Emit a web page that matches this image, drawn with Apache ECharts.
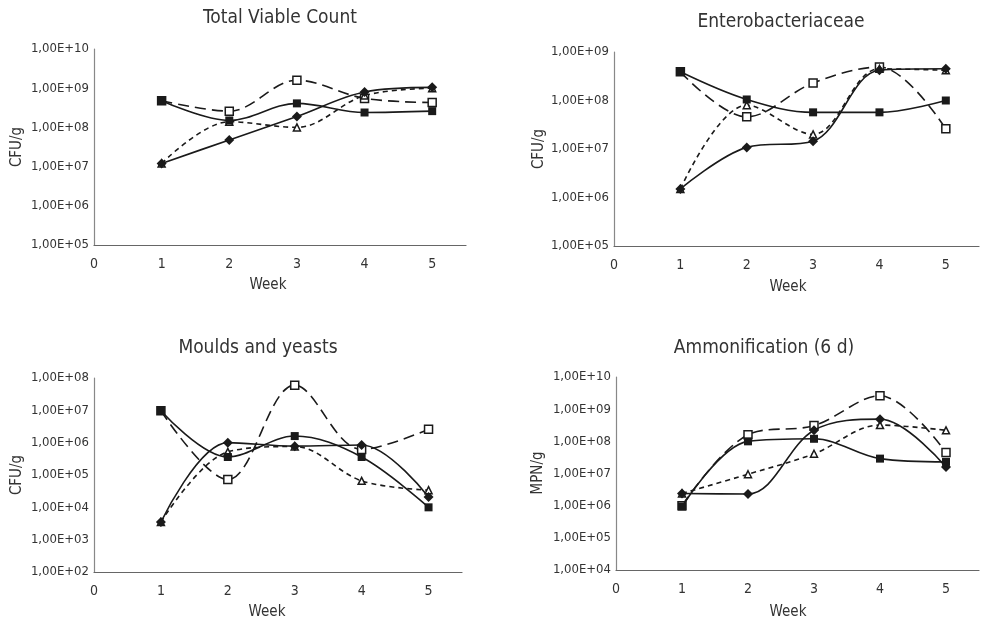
<!DOCTYPE html>
<html>
<head>
<meta charset="utf-8">
<script src="https://cdn.jsdelivr.net/npm/echarts@6/dist/echarts.min.js"></script>
<style>
html,body{margin:0;padding:0;background:#fff;}
#chart{width:982px;height:621px;}
</style>
</head>
<body>
<div id="chart"></div>
<script>
// ---------- data ----------
const weeks = [1, 2, 3, 4, 5];
const xTickLabels = ['0', '1', '2', '3', '4', '5'];
const panelTitles = ['Total Viable Count', 'Enterobacteriaceae', 'Moulds and yeasts', 'Ammonification (6 d)'];
const yAxisNames = ['CFU/g', 'CFU/g', 'CFU/g', 'MPN/g'];
const xAxisName = 'Week';
const yMins = [1e5, 1e5, 1e2, 1e4];
const yMaxs = [1e10, 1e9, 1e8, 1e10];

// Total Viable Count
const tvcSquare   = [4.8e8, 1.5e8, 4.1e8, 2.4e8, 2.6e8];
const tvcDiamond  = [1.2e7, 4.8e7, 1.9e8, 8.0e8, 1.05e9];
const tvcOpenSq   = [4.8e8, 2.6e8, 1.6e9, 5.5e8, 4.3e8];
const tvcTriangle = [1.2e7, 1.4e8, 1.0e8, 6.5e8, 1.0e9];
// Enterobacteriaceae
const entSquare   = [3.9e8, 1.05e8, 5.7e7, 5.7e7, 1.0e8];
const entDiamond  = [1.5e6, 1.08e7, 1.45e7, 4.2e8, 4.5e8];
const entOpenSq   = [3.9e8, 4.6e7, 2.3e8, 4.9e8, 2.6e7];
const entTriangle = [1.5e6, 8.0e7, 2.0e7, 4.5e8, 4.2e8];
// Moulds and yeasts
const mySquare    = [9.7e6, 3.6e5, 1.6e6, 3.6e5, 1.0e4];
const myDiamond   = [3.5e3, 1.0e6, 7.8e5, 8.5e5, 2.1e4];
const myOpenSq    = [9.7e6, 7.2e4, 6.0e7, 6.2e5, 2.6e6];
const myTriangle  = [3.5e3, 5.2e5, 7.6e5, 6.6e4, 3.4e4];
// Ammonification (6 d)
const amSquare    = [9.4e5, 1.0e8, 1.2e8, 2.9e7, 2.3e7];
const amDiamond   = [2.4e6, 2.3e6, 2.2e8, 4.9e8, 1.6e7];
const amOpenSq    = [1.0e6, 1.6e8, 3.1e8, 2.6e9, 4.5e7];
const amTriangle  = [2.4e6, 9.5e6, 4.1e7, 3.2e8, 2.2e8];

const panelData = [
  [tvcSquare, tvcDiamond, tvcOpenSq, tvcTriangle],
  [entSquare, entDiamond, entOpenSq, entTriangle],
  [mySquare, myDiamond, myOpenSq, myTriangle],
  [amSquare, amDiamond, amOpenSq, amTriangle]
];

// ---------- layout / style ----------
const FONT = '"Liberation Sans Narrow","DejaVu Sans Condensed","Roboto",sans-serif';
const TXT = '#333333';
const LINE = '#1a1a1a';
const grids = [
  {left: 94,  top: 49,  width: 372, height: 196},
  {left: 614, top: 52,  width: 370, height: 194},
  {left: 94,  top: 378, width: 368, height: 194},
  {left: 616, top: 377, width: 368, height: 193}
];
const titlePos = [[280, 18], [781, 22], [258, 348], [764, 348]];
const weekPos  = [[268, 285], [788, 287], [267, 612], [788, 612]];
const yNamePos = [[17, 147], [539, 149], [17, 475], [538, 473]];

const seriesStyles = [
  {symbol: 'rect', symbolSize: 8, fill: LINE, type: 'solid'},
  {symbol: 'diamond', symbolSize: 10, fill: LINE, type: 'solid'},
  {symbol: 'rect', symbolSize: 8, fill: '#ffffff', type: [11, 6]},
  {symbol: 'triangle', symbolSize: 7, fill: '#ffffff', type: [5, 4]}
];

function yFmt(v) {
  const e = Math.round(Math.log10(v));
  return '1,00E+' + (e < 10 ? '0' + e : String(e));
}

const xAxes = [], yAxes = [], series = [], graphics = [];
for (let p = 0; p < 4; p++) {
  xAxes.push({
    gridIndex: p, type: 'value', min: 0, max: 5.5, interval: 1,
    axisLine: {show: true, lineStyle: {color: '#666', width: 1.2}},
    axisTick: {show: false}, splitLine: {show: false},
    axisLabel: {
      color: TXT, fontFamily: FONT, fontSize: 14, margin: 12,
      formatter: v => (Number.isInteger(v) && xTickLabels[v] !== undefined) ? xTickLabels[v] : ''
    }
  });
  yAxes.push({
    gridIndex: p, type: 'log', logBase: 10, min: yMins[p], max: yMaxs[p],
    axisLine: {show: true, lineStyle: {color: '#888', width: 1.2}},
    axisTick: {show: false}, splitLine: {show: false}, minorTick: {show: false},
    axisLabel: {color: TXT, fontFamily: FONT, fontSize: 13, margin: 5, formatter: yFmt}
  });
  for (let s = 0; s < 4; s++) {
    const st = seriesStyles[s];
    series.push({
      type: 'line', xAxisIndex: p, yAxisIndex: p,
      data: weeks.map((w, i) => [w, panelData[p][s][i]]),
      smooth: 0.35,
      symbol: st.symbol, symbolSize: st.symbolSize, showSymbol: true,
      lineStyle: {color: LINE, width: 1.6, type: st.type},
      itemStyle: {color: st.fill, borderColor: LINE, borderWidth: st.fill === LINE ? 0 : 1.5},
      z: 2 + (st.fill === LINE ? 1 : 0),
      animation: false
    });
  }
  graphics.push({
    type: 'text', x: titlePos[p][0], y: titlePos[p][1],
    style: {text: panelTitles[p], fill: TXT, font: '19px ' + FONT, textAlign: 'center', textVerticalAlign: 'middle'}
  });
  graphics.push({
    type: 'text', x: weekPos[p][0], y: weekPos[p][1],
    style: {text: xAxisName, fill: TXT, font: '15px ' + FONT, textAlign: 'center', textVerticalAlign: 'middle'}
  });
  graphics.push({
    type: 'text', x: yNamePos[p][0], y: yNamePos[p][1], rotation: Math.PI / 2,
    style: {text: yAxisNames[p], fill: TXT, font: '15px ' + FONT, textAlign: 'center', textVerticalAlign: 'middle'}
  });
}

const chart = echarts.init(document.getElementById('chart'), null, {renderer: 'canvas'});
chart.setOption({
  backgroundColor: '#ffffff',
  animation: false,
  grid: grids,
  xAxis: xAxes,
  yAxis: yAxes,
  series: series,
  graphic: graphics
});
</script>
</body>
</html>
